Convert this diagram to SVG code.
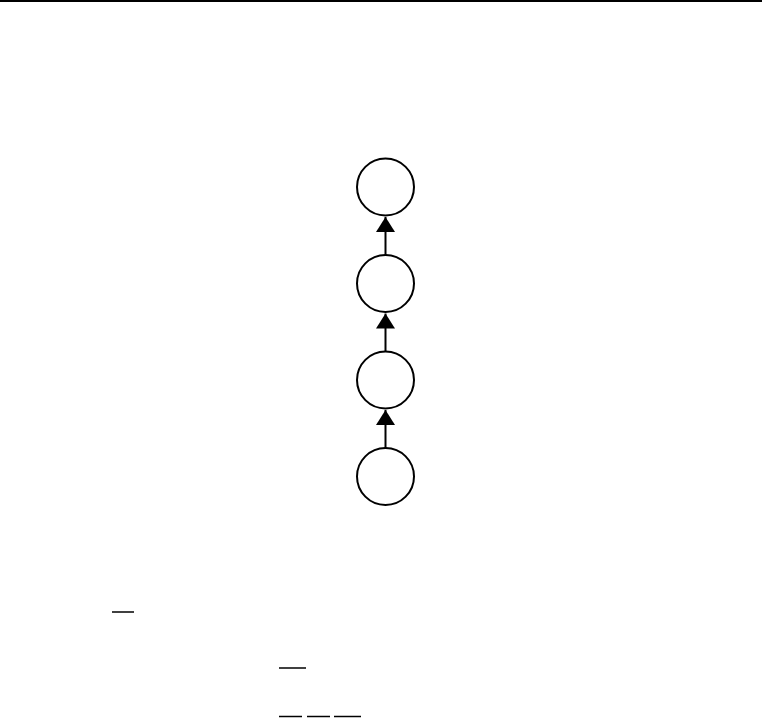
<svg xmlns="http://www.w3.org/2000/svg" width="769" height="718" viewBox="0 0 769 718">
<style>
.node{fill:#fff;stroke:#000;stroke-width:2}
.edge{stroke:#000;stroke-width:2;fill:none}
.rule{stroke:#000;stroke-width:1.5}
</style>
<defs>
<marker id="ah" markerWidth="15" markerHeight="19" refX="15" refY="9.5" orient="auto" markerUnits="userSpaceOnUse">
<path d="M0,0 L15,9.5 L0,19 Z" fill="#000"/>
</marker>
</defs>
<rect width="769" height="718" fill="#fff"/>
<line x1="0" y1="1" x2="762" y2="1" stroke="#000" stroke-width="2"/>
<g id="connectors">
<line class="edge" x1="385.5" y1="255" x2="385.5" y2="217" marker-end="url(#ah)"/>
<line class="edge" x1="385.5" y1="351.5" x2="385.5" y2="313.5" marker-end="url(#ah)"/>
<line class="edge" x1="385.5" y1="448" x2="385.5" y2="410" marker-end="url(#ah)"/>
</g>
<g id="n1"><circle class="node" cx="385.5" cy="187" r="28.5"/></g>
<g id="n2"><circle class="node" cx="385.5" cy="283.5" r="28.5"/></g>
<g id="n3"><circle class="node" cx="385.5" cy="380" r="28.5"/></g>
<g id="n4"><circle class="node" cx="385.5" cy="476.5" r="28.5"/></g>
<line class="rule" x1="112" y1="612" x2="134" y2="612"/>
<line class="rule" x1="279" y1="668" x2="306" y2="668"/>
<line class="rule" x1="279" y1="716.5" x2="302" y2="716.5"/>
<line class="rule" x1="307" y1="716.5" x2="330" y2="716.5"/>
<line class="rule" x1="334" y1="716.5" x2="361" y2="716.5"/>
</svg>
